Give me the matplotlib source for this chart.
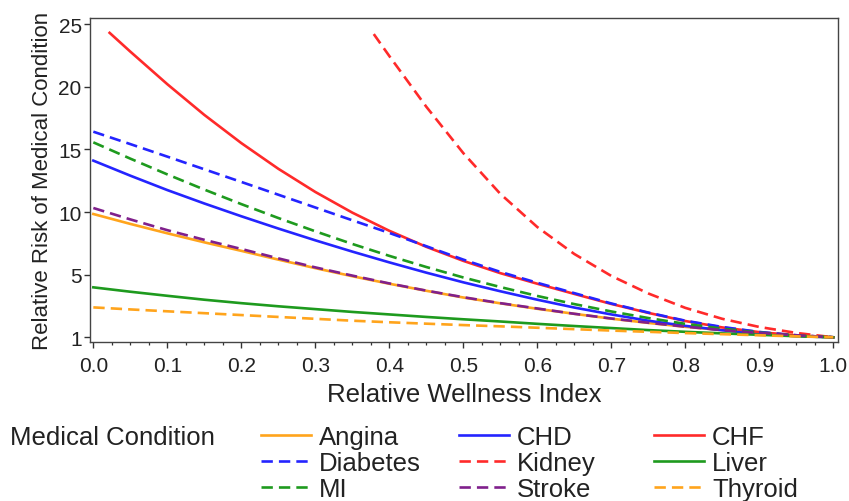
import matplotlib
matplotlib.use('Agg')
import matplotlib.pyplot as plt
import numpy as np

plt.rcParams['font.family'] = ['Liberation Sans', 'DejaVu Sans']

# ---------------- data ----------------
x_grid = [0.00, 0.05, 0.10, 0.15, 0.20, 0.25, 0.30, 0.35, 0.40, 0.45, 0.50,
          0.55, 0.60, 0.65, 0.70, 0.75, 0.80, 0.85, 0.90, 0.95, 1.00]
chf_x = [0.022, 0.05, 0.10, 0.15, 0.20, 0.25, 0.30, 0.35, 0.40, 0.45, 0.50,
         0.55, 0.60, 0.65, 0.70, 0.75, 0.80, 0.85, 0.90, 0.95, 1.00]
kidney_x = [0.379, 0.40, 0.45, 0.50, 0.55, 0.60, 0.65, 0.70, 0.75, 0.80,
            0.85, 0.90, 0.95, 1.00]

angina = [9.84, 9.05, 8.30, 7.58, 6.90, 6.20, 5.52, 4.90, 4.42, 3.97, 3.54,
          3.17, 2.82, 2.50, 2.19, 1.92, 1.67, 1.46, 1.27, 1.12, 1.00]
chd = [14.10, 12.90, 11.75, 10.68, 9.66, 8.68, 7.74, 6.84, 5.98, 5.16, 4.51,
       3.94, 3.40, 2.90, 2.46, 2.06, 1.73, 1.45, 1.23, 1.08, 1.00]
chf = [24.3, 22.8, 20.2, 17.75, 15.5, 13.45, 11.6, 9.95, 8.5, 7.22, 6.1,
       5.12, 4.42, 3.77, 3.13, 2.56, 2.04, 1.63, 1.33, 1.12, 1.00]
diabetes = [16.41, 15.42, 14.42, 13.41, 12.40, 11.38, 10.36, 9.34, 8.33, 7.27, 6.20,
            5.22, 4.48, 3.82, 3.16, 2.58, 2.06, 1.66, 1.34, 1.13, 1.00]
kidney = [24.2, 22.45, 18.4, 14.7, 11.45, 8.8, 6.65, 4.92, 3.80, 2.88,
          2.18, 1.66, 1.28, 1.00]
liver = [4.19, 3.91, 3.65, 3.40, 3.18, 2.98, 2.80, 2.62, 2.46, 2.30, 2.15,
         2.01, 1.86, 1.72, 1.59, 1.46, 1.35, 1.25, 1.16, 1.07, 1.00]
mi = [15.56, 14.26, 13.00, 11.79, 10.63, 9.52, 8.46, 7.45, 6.50, 5.61, 4.82,
      4.21, 3.64, 3.12, 2.65, 2.23, 1.86, 1.55, 1.30, 1.12, 1.00]
stroke = [10.32, 9.41, 8.55, 7.78, 7.05, 6.30, 5.58, 4.94, 4.44, 3.98, 3.56,
          3.18, 2.84, 2.50, 2.20, 1.93, 1.68, 1.46, 1.28, 1.13, 1.00]
thyroid = [2.91, 2.78, 2.66, 2.54, 2.42, 2.30, 2.18, 2.06, 1.96, 1.87, 1.78,
           1.70, 1.61, 1.52, 1.43, 1.35, 1.27, 1.20, 1.13, 1.06, 1.00]

condition_names = ['Angina', 'CHD', 'CHF', 'Diabetes', 'Kidney', 'Liver',
                   'MI', 'Stroke', 'Thyroid']
x_ticks = [0.0, 0.1, 0.2, 0.3, 0.4, 0.5, 0.6, 0.7, 0.8, 0.9, 1.0]
y_ticks = [1, 5, 10, 15, 20, 25]
y_tick_labels = ['1', '5', '10', '15', '20', '25']

# ---------------- styles ----------------
ORANGE = '#FFA41C'
BLUE = '#2424FF'
RED = '#FF2A2A'
GREEN = '#1E9A1E'
PURPLE = '#80208C'

series = [
    ('Angina', x_grid, angina, ORANGE, 'solid'),
    ('CHD', x_grid, chd, BLUE, 'solid'),
    ('CHF', chf_x, chf, RED, 'solid'),
    ('Diabetes', x_grid, diabetes, BLUE, 'dash'),
    ('Kidney', kidney_x, kidney, RED, 'dash'),
    ('Liver', x_grid, liver, GREEN, 'solid'),
    ('MI', x_grid, mi, GREEN, 'dash'),
    ('Stroke', x_grid, stroke, PURPLE, 'dash'),
    ('Thyroid', x_grid, thyroid, ORANGE, 'dash'),
]

fig = plt.figure(figsize=(8.49, 5.02), dpi=100)
ax = fig.add_axes([90 / 849, 1 - 343 / 502, (838.3 - 90) / 849, (343 - 19.3) / 502])


def fwd(v):
    v = np.asarray(v, dtype=float)
    return np.where(v < 5, (v - 1) * 1.25, v)


def inv(p):
    p = np.asarray(p, dtype=float)
    return np.where(p < 5, 1 + 0.8 * p, p)


ax.set_yscale('function', functions=(fwd, inv))

handles = {}
for name, xs, ys, color, style in series:
    if style == 'dash':
        ln, = ax.plot(xs, ys, color=color, lw=1.9, linestyle=(0, (4.3, 2.3)),
                      label=name, dash_capstyle='butt', solid_joinstyle='round')
    else:
        ln, = ax.plot(xs, ys, color=color, lw=1.9, label=name,
                      solid_joinstyle='round')
    handles[name] = ln

ax.set_xlim(-0.0045, 1.0068)
ax.set_ylim(0.70, 25.46)

ax.set_xticks(x_ticks)
ax.set_xticklabels([f'{t:.1f}' for t in x_ticks])
ax.set_xticks(np.arange(0, 1.0001, 0.025), minor=True)
ax.set_yticks(y_ticks)
ax.set_yticklabels(y_tick_labels)
ax.yaxis.set_minor_locator(matplotlib.ticker.NullLocator())

ax.tick_params(axis='both', which='major', direction='out', length=4, width=1.0,
               colors='#333333', labelcolor='#222222', labelsize=15)
ax.tick_params(axis='x', which='minor', direction='out', length=2.5, width=0.9,
               colors='#333333')
ax.tick_params(axis='y', which='major', pad=2)
ax.tick_params(axis='x', which='major', pad=6)

for sp in ax.spines.values():
    sp.set_color('#444444')
    sp.set_linewidth(1.0)

ax.set_xlabel('Relative Wellness Index', fontsize=18.5, color='#222222', labelpad=5)
ax.set_ylabel('Relative Risk of Medical Condition', fontsize=16, color='#222222', labelpad=4)

# ---------------- legend ----------------
fig.text(10 / 849, 1 - 438 / 502, 'Medical Condition', fontsize=18.5,
         ha='left', va='center', color='#222222')
col_x = [261 / 849, 459 / 849, 654 / 849]
for c in range(3):
    names = condition_names[c::3]
    fig.legend(handles=[handles[n] for n in names], labels=names,
               loc='center left', bbox_to_anchor=(col_x[c], 1 - 464 / 502),
               frameon=False, fontsize=18.5, handlelength=1.95,
               handletextpad=0.31, labelspacing=0.08, borderpad=0,
               borderaxespad=0, labelcolor='#222222')

fig.savefig('out.png', dpi=100)
